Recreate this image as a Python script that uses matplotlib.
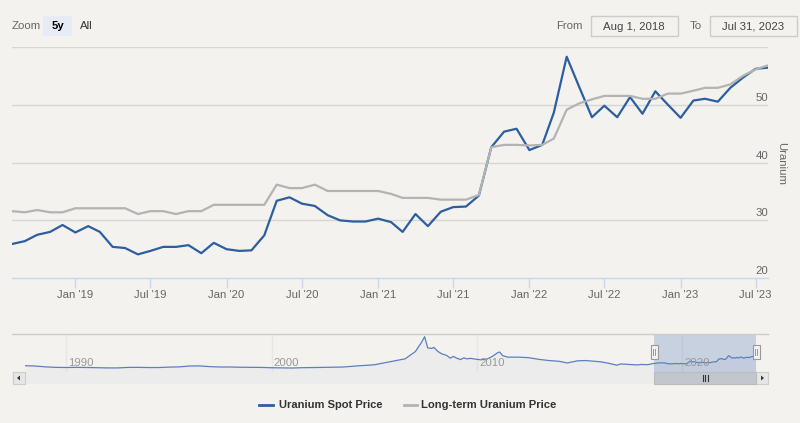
import matplotlib
matplotlib.use("Agg")
import matplotlib.pyplot as plt
import matplotlib.dates as mdates
from matplotlib.patches import Rectangle, Polygon
import pandas as pd

plt.rcParams['font.family'] = ['Liberation Sans', 'DejaVu Sans']

# ---------------- data ----------------
month_dates = list(pd.date_range("2018-08-01", periods=60, freq="MS")) + [pd.Timestamp("2023-07-31")]

spot_price = [25.9, 26.4, 27.5, 28.0, 29.2, 27.9, 29.0, 28.0, 25.4, 25.2, 24.1, 24.7,
              25.4, 25.4, 25.7, 24.3, 26.1, 25.0, 24.7, 24.8, 27.4, 33.4, 34.0, 32.9,
              32.5, 30.9, 30.0, 29.8, 29.8, 30.3, 29.7, 28.0, 31.1, 29.0, 31.5, 32.3,
              32.4, 34.3, 42.7, 45.4, 45.9, 42.2, 43.1, 48.7, 58.4, 53.2, 47.9, 49.9,
              47.9, 51.4, 48.5, 52.4, 50.1, 47.8, 50.8, 51.1, 50.6, 53.0, 54.8, 56.3, 56.5]

longterm_price = [31.6, 31.4, 31.8, 31.4, 31.4, 32.1, 32.1, 32.1, 32.1, 32.1, 31.1, 31.6,
                  31.6, 31.1, 31.6, 31.6, 32.7, 32.7, 32.7, 32.7, 32.7, 36.2, 35.6, 35.6,
                  36.2, 35.1, 35.1, 35.1, 35.1, 35.1, 34.6, 33.9, 33.9, 33.9, 33.6, 33.6,
                  33.6, 34.4, 42.7, 43.1, 43.1, 43.0, 43.1, 44.2, 49.2, 50.3, 51.0, 51.6,
                  51.6, 51.6, 51.1, 51.1, 52.0, 52.0, 52.5, 53.0, 53.0, 53.6, 55.1, 56.2, 56.9]

# navigator history of the spot price (decimal year, value) before the 5y window
nav_hist_years = [1988.0, 1988.5, 1989.0, 1989.5, 1990.0, 1990.5, 1991.0, 1991.5, 1992.0, 1992.5,
                  1993.0, 1993.5, 1994.0, 1994.5, 1995.0, 1995.5, 1996.0, 1996.5, 1997.0, 1997.5,
                  1998.0, 1998.5, 1999.0, 1999.5, 2000.0, 2000.5, 2001.0, 2001.5, 2002.0, 2002.5,
                  2003.0, 2003.5, 2004.0, 2004.5, 2005.0, 2005.5, 2006.0, 2006.5, 2007.0, 2007.3,
                  2007.45, 2007.6, 2007.8, 2007.9, 2008.1, 2008.3, 2008.5, 2008.7, 2008.85, 2009.0,
                  2009.2, 2009.35, 2009.5, 2009.7, 2009.9, 2010.2, 2010.5, 2010.75, 2011.0, 2011.1,
                  2011.25, 2011.5, 2012.0, 2012.5, 2013.0, 2013.5, 2014.0, 2014.4, 2014.6, 2014.9,
                  2015.3, 2015.6, 2016.0, 2016.4, 2016.8, 2017.0, 2017.4, 2017.8, 2018.0, 2018.3]
nav_hist_spot = [17.0, 15.5, 12.0, 10.0, 9.5, 10.0, 9.5, 8.5, 7.8, 7.7,
                 9.8, 10.1, 9.3, 9.3, 11.0, 12.0, 15.5, 16.0, 13.0, 11.5,
                 11.5, 10.5, 10.2, 9.8, 8.5, 7.9, 7.3, 8.7, 9.5, 9.9,
                 10.5, 11.5, 15.0, 18.0, 20.7, 29.0, 37.0, 45.0, 75.0, 113.0,
                 136.0, 90.0, 88.0, 92.0, 75.0, 65.0, 60.0, 48.0, 55.0, 48.0,
                 42.0, 49.0, 45.0, 47.0, 44.0, 41.0, 45.0, 55.0, 70.0, 73.0,
                 58.0, 52.0, 52.0, 50.0, 43.0, 38.0, 35.0, 28.0, 32.0, 37.0,
                 38.0, 36.0, 33.0, 27.0, 19.0, 24.0, 22.0, 20.0, 22.0, 21.0]

x_tick_labels = ["Jan '19", "Jul '19", "Jan '20", "Jul '20", "Jan '21", "Jul '21",
                 "Jan '22", "Jul '22", "Jan '23", "Jul '23"]
y_tick_values = [20, 30, 40, 50]
nav_label_years = [1990, 2000, 2010, 2020]

# ---------------- style ----------------
BG = '#f3f2ee'
SPOT = '#2c5ea0'
LT = '#b3b3b3'
GRID = '#d6d6d6'
AXLINE = '#ccd6eb'
W, H = 800, 423

fig = plt.figure(figsize=(8, 4.23), dpi=100, facecolor=BG)

def fx(px):
    return px / W

def fy(py):
    return 1 - py / H

# overlay axes in pixel coordinates
ov = fig.add_axes([0, 0, 1, 1], zorder=5)
ov.set_xlim(0, W)
ov.set_ylim(H, 0)
ov.axis('off')
ov.patch.set_alpha(0)

# ---------------- main chart ----------------
L, R, T, B = 12, 768, 47.5, 278
ax = fig.add_axes([fx(L), fy(B), fx(R - L), (B - T) / H], zorder=2)
ax.patch.set_alpha(0)
for s in ['top', 'right', 'left']:
    ax.spines[s].set_visible(False)
ax.spines['bottom'].set_color(AXLINE)
ax.spines['bottom'].set_linewidth(1)
ax.set_xlim(pd.Timestamp("2018-08-01"), pd.Timestamp("2023-07-31"))
ax.set_ylim(20, 60)
for v in [30, 40, 50, 60]:
    ax.axhline(v, color=GRID, lw=1, zorder=1)

ax.plot(month_dates, spot_price, color=SPOT, lw=1.6, zorder=3, solid_joinstyle='round')
ax.plot(month_dates, longterm_price, color=LT, lw=1.6, zorder=4, solid_joinstyle='round')

tick_dates = list(pd.date_range("2019-01-01", periods=10, freq="6MS"))
ax.set_xticks(tick_dates)
ax.set_xticklabels(x_tick_labels)
ax.tick_params(axis='x', length=7.5, width=1, color=AXLINE, labelcolor='#666666',
               labelsize=8.2, pad=1.5)
ax.set_yticks([])

for v in y_tick_values:
    py = B - (v - 20) * (B - T) / 40.0
    ov.text(768, py - 2, str(v), ha='right', va='bottom', color='#666666', fontsize=8.2)

ov.text(781, 163, 'Uranium', rotation=270, ha='center', va='center',
        color='#666666', fontsize=8.2)

# ---------------- top controls ----------------
ov.text(12, 26, 'Zoom', ha='left', va='center', color='#666666', fontsize=8.2)
ov.add_patch(Rectangle((43, 16), 29, 20, facecolor='#e6ebf5', edgecolor='none'))
ov.text(57.5, 26, '5y', ha='center', va='center', color='#000000', fontsize=8.2, fontweight='bold')
ov.text(80, 26, 'All', ha='left', va='center', color='#333333', fontsize=8.2)

ov.text(583, 26, 'From', ha='right', va='center', color='#666666', fontsize=8.2)
ov.add_patch(Rectangle((590.5, 16.5), 87, 20, facecolor='none', edgecolor='#cccccc', lw=1))
ov.text(634, 26.5, 'Aug 1, 2018', ha='center', va='center', color='#444444', fontsize=8.2)
ov.text(702, 26, 'To', ha='right', va='center', color='#666666', fontsize=8.2)
ov.add_patch(Rectangle((709.5, 16.5), 87, 20, facecolor='none', edgecolor='#cccccc', lw=1))
ov.text(753, 26.5, 'Jul 31, 2023', ha='center', va='center', color='#444444', fontsize=8.2)

# ---------------- navigator ----------------
NL, NR, NT, NB = 25, 756, 334, 372
nav = fig.add_axes([fx(NL), fy(NB), fx(NR - NL), (NB - NT) / H], zorder=1)
nav.patch.set_alpha(0)
nav.axis('off')


def dec_to_ts(y):
    yr = int(y)
    return pd.Timestamp(f"{yr}-01-01") + pd.Timedelta(days=(y - yr) * 365.25)

nav_dates = [dec_to_ts(y) for y in nav_hist_years] + month_dates
nav_vals = nav_hist_spot + spot_price
nav.set_xlim(nav_dates[0], pd.Timestamp("2023-07-31"))
nav.set_ylim(-9, 147)
for yr in nav_label_years:
    nav.axvline(pd.Timestamp(f"{yr}-01-01"), color='#e6e6e6', lw=1, zorder=0)
nav.fill_between(nav_dates, nav_vals, -9, color='#6685c2', alpha=0.05, lw=0, zorder=1)
nav.plot(nav_dates, nav_vals, color='#5b7fc0', lw=0.9, zorder=2)

x0 = mdates.date2num(nav_dates[0])
x1 = mdates.date2num(pd.Timestamp("2023-07-31"))
for yr in nav_label_years:
    xv = mdates.date2num(pd.Timestamp(f"{yr}-01-01"))
    px = NL + (xv - x0) / (x1 - x0) * (NR - NL)
    ov.text(px + 2, 363.5, str(yr), ha='left', va='center', color='#999999', fontsize=8.2)

# navigator outline and selection mask
sel_l, sel_r = 654, 756
ov.plot([12, 768], [NT, NT], color='#cccccc', lw=1)
ov.add_patch(Rectangle((sel_l, NT), sel_r - sel_l, NB - NT, facecolor=(102/255, 133/255, 194/255, 0.3),
                       edgecolor='none', zorder=1))

for hx in [sel_l, sel_r]:
    ov.add_patch(Rectangle((hx - 3.5, 345.5), 7, 13.5, facecolor='#f2f2f2', edgecolor='#999999', lw=0.8, zorder=6))
    ov.plot([hx - 1, hx - 1], [349, 355.5], color='#999999', lw=0.7, zorder=7)
    ov.plot([hx + 1, hx + 1], [349, 355.5], color='#999999', lw=0.7, zorder=7)

# scrollbar
ST, SB = 372, 384
ov.add_patch(Rectangle((12, ST), 756, SB - ST, facecolor='#ececec', edgecolor='none', zorder=1))
ov.add_patch(Rectangle((12.5, ST), 12.5, SB - ST, facecolor='#e6e6e6', edgecolor='#cccccc', lw=0.8, zorder=2))
ov.add_patch(Rectangle((755.5, ST), 12.5, SB - ST, facecolor='#e6e6e6', edgecolor='#cccccc', lw=0.8, zorder=2))
ov.add_patch(Polygon([[17, 378], [20, 375.5], [20, 380.5]], closed=True, facecolor='#333333', edgecolor='none', zorder=3))
ov.add_patch(Polygon([[764, 378], [761, 375.5], [761, 380.5]], closed=True, facecolor='#333333', edgecolor='none', zorder=3))
ov.add_patch(Rectangle((sel_l, ST), sel_r - sel_l, SB - ST, facecolor='#c2c6ce', edgecolor='#bbbbbb', lw=0.8, zorder=2))
cx = (sel_l + sel_r) / 2
for dx in [-2.5, 0, 2.5]:
    ov.plot([cx + dx, cx + dx], [375, 381], color='#333333', lw=0.8, zorder=3)

# ---------------- legend ----------------
ov.plot([259, 273], [405, 405], color=SPOT, lw=2)
ov.text(279, 405.5, 'Uranium Spot Price', ha='left', va='center', color='#333333',
        fontsize=8.0, fontweight='bold')
ov.plot([404, 417], [405, 405], color=LT, lw=2)
ov.text(421, 405.5, 'Long-term Uranium Price', ha='left', va='center', color='#333333',
        fontsize=8.1, fontweight='bold')

fig.savefig('out.png', dpi=100, facecolor=BG)
